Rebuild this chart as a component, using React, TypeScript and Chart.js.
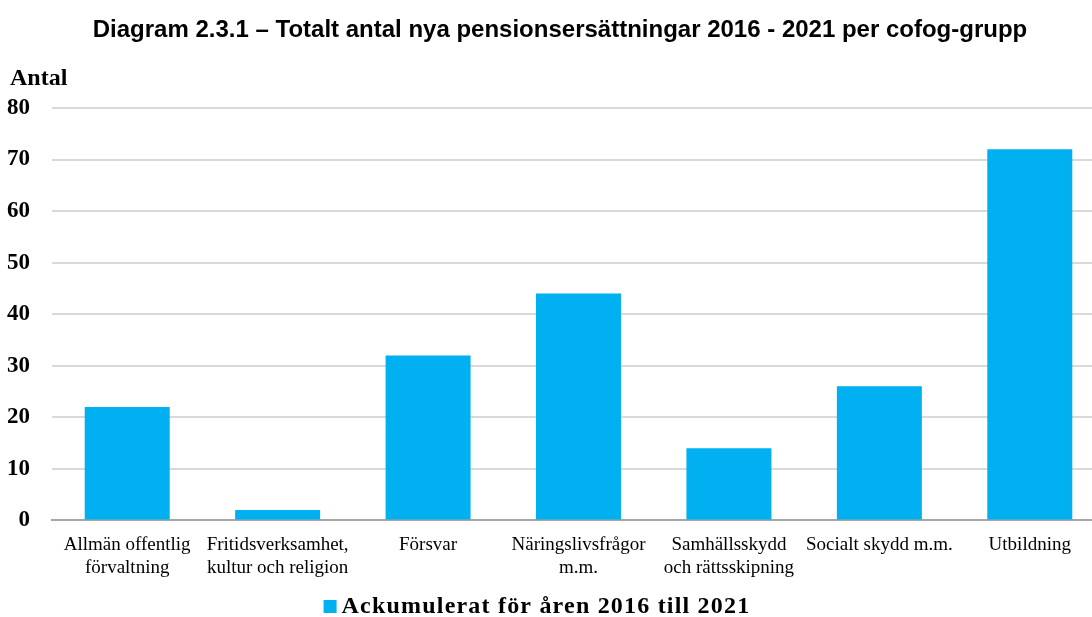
import React, { useEffect, useRef } from "react";
import { Chart, registerables } from "chart.js";

Chart.register(...registerables);

const categories: (string | string[])[] = [
  ["Allmän offentlig", "förvaltning"],
  ["Fritidsverksamhet,", "kultur och religion"],
  "Försvar",
  ["Näringslivsfrågor", "m.m."],
  ["Samhällsskydd", "och rättsskipning"],
  "Socialt skydd m.m.",
  "Utbildning",
];
const values: number[] = [22, 2, 32, 44, 14, 26, 72];
const seriesLabel = "Ackumulerat för åren 2016 till 2021";
const titleText = "Diagram 2.3.1 – Totalt antal nya pensionsersättningar 2016 - 2021 per cofog-grupp";
const yAxisLabel = "Antal";

const BAR_COLOR = "#00B0F0";
const SERIF = "'Liberation Serif', 'Times New Roman', serif";

const extrasPlugin = {
  id: "extras",
  afterLayout(chart: any) {
    // let the y tick labels extend left of the layout padding
    chart.scales.y.left = 0;
  },
  afterDraw(chart: any) {
    const ctx = chart.ctx;
    const ds = chart.data.datasets[0];
    ctx.save();
    // y-axis unit label
    ctx.font = `bold 24px ${SERIF}`;
    ctx.fillStyle = "#000";
    ctx.textAlign = "left";
    ctx.textBaseline = "alphabetic";
    ctx.fillText(yAxisLabel, 10, 85);
    // legend
    (ctx as any).letterSpacing = "1.2px";
    const text = ds.label as string;
    const tw = ctx.measureText(text).width;
    const box = 13;
    const gap = 5;
    const total = box + gap + tw;
    const cx = 537;
    const x0 = cx - total / 2;
    ctx.fillStyle = ds.backgroundColor;
    ctx.fillRect(x0, 600, box, box);
    ctx.fillStyle = "#000";
    ctx.fillText(text, x0 + box + gap, 613);
    ctx.restore();
  },
};

export default function App() {
  const ref = useRef<HTMLCanvasElement | null>(null);
  useEffect(() => {
    if (!ref.current) return;
    const chart = new Chart(ref.current, {
      type: "bar",
      data: {
        labels: categories,
        datasets: [
          {
            label: seriesLabel,
            data: values,
            backgroundColor: BAR_COLOR,
            borderWidth: 0,
            categoryPercentage: 1,
            barPercentage: 0.565,
          },
        ],
      },
      options: {
        animation: false,
        responsive: false,
        maintainAspectRatio: false,
        layout: { padding: { left: 15, right: 15, top: 0, bottom: 25 } },
        plugins: {
          legend: { display: false },
          tooltip: { enabled: false },
          title: {
            display: true,
            text: titleText,
            color: "#000",
            font: { family: "'Liberation Sans', Arial, sans-serif", size: 24, weight: "bold", lineHeight: 1.2 },
            padding: { top: 16, bottom: 63.2 },
          },
        },
        scales: {
          x: {
            grid: { display: false, drawTicks: false },
            border: { display: true, color: "#A6A6A6", width: 2 },
            ticks: {
              color: "#000",
              font: { family: SERIF, size: 19, lineHeight: 1.2 },
              maxRotation: 0,
              autoSkip: false,
              padding: 13,
            },
          },
          y: {
            min: 0,
            max: 80,
            grid: { color: "#D9D9D9", lineWidth: 2, drawTicks: false },
            border: { display: false },
            afterFit(scale: any) {
              scale.width = 37;
            },
            ticks: {
              stepSize: 10,
              color: "#000",
              font: { family: SERIF, size: 23, weight: "bold" },
              padding: 22,
            },
          },
        },
      },
      plugins: [extrasPlugin],
    });
    return () => chart.destroy();
  }, []);
  return (
    <div style={{ position: "absolute", left: 0, top: 0, width: 1092, height: 617, overflow: "hidden", background: "#fff" }}>
      <canvas ref={ref} width={1120} height={617} style={{ width: 1120, height: 617, display: "block" }} />
    </div>
  );
}
